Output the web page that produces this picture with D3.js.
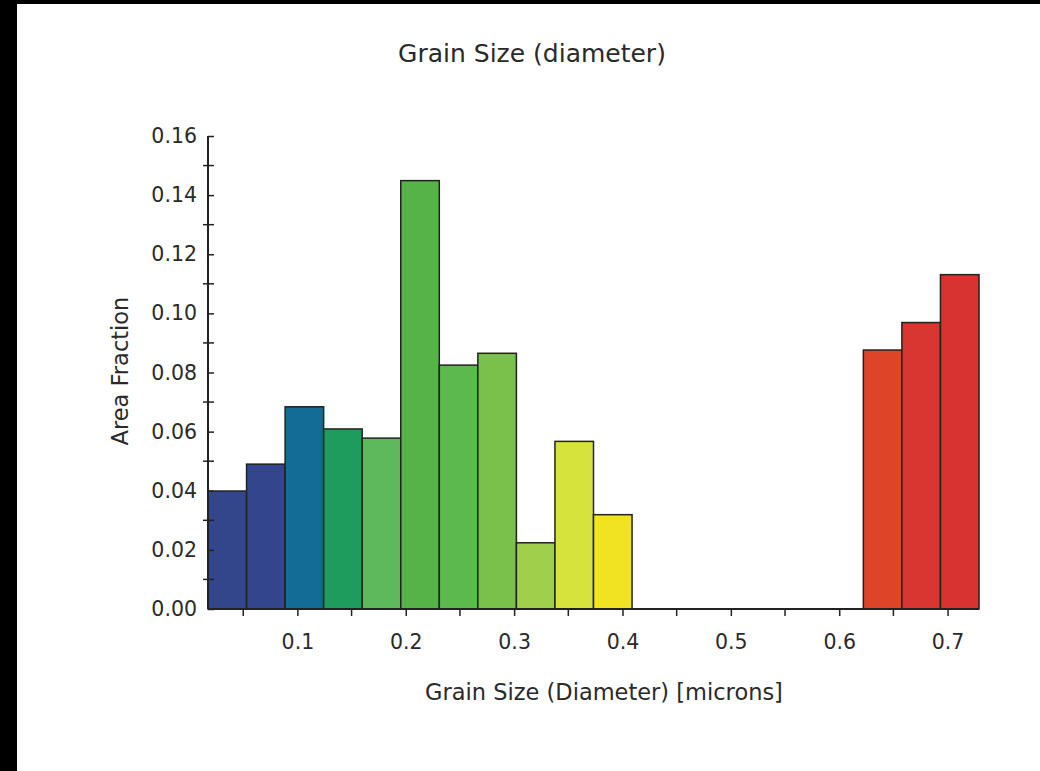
<!DOCTYPE html>
<html>
<head>
<meta charset="utf-8">
<script src="https://cdn.jsdelivr.net/npm/d3@7"></script>
<style>
  body { margin: 0; background: #fff; }
  svg { display: block; }
  text { font-family: "DejaVu Sans", Verdana, sans-serif; fill: #2a2a2a; }
</style>
</head>
<body>
<svg id="chart"></svg>
<script>
// histogram bins (microns) and area fractions
let binStart = 0.0175;
let binEnd = 0.729;
let binCount = 20;
let fractions = [0.0399, 0.0490, 0.0684, 0.0609, 0.0578, 0.1449, 0.0825, 0.0865,
  0.0224, 0.0567, 0.0319, 0, 0, 0, 0, 0, 0, 0.0876, 0.0969, 0.1131];
let colors = ["#33458b", "#33458d", "#136c95", "#1c9d5d", "#5db95a", "#55b347",
  "#5cb94b", "#79c14a", "#9ed04a", "#d7e33d", "#f1e322", null, null, null, null,
  null, null, "#de4528", "#d93531", "#d93331"];
let xTicks = [0.1, 0.2, 0.3, 0.4, 0.5, 0.6, 0.7];
let xMinorTicks = [0.05, 0.15, 0.25, 0.35, 0.45, 0.55, 0.65];
let yTicks = [0, 0.02, 0.04, 0.06, 0.08, 0.10, 0.12, 0.14, 0.16];
let yMinorTicks = [0.01, 0.03, 0.05, 0.07, 0.09, 0.11, 0.13, 0.15];

let width = 1040;
let height = 771;
let plotLeft = 208, plotRight = 979, plotTop = 136, plotBottom = 609;

let svg = d3.select("#chart").attr("width", width).attr("height", height);

// black frame strips of the original screenshot
svg.append("rect").attr("x", 0).attr("y", 0).attr("width", 17).attr("height", height).attr("fill", "#000");
svg.append("rect").attr("x", 0).attr("y", 0).attr("width", width).attr("height", 4).attr("fill", "#000");

let xScale = d3.scaleLinear().domain([binStart, binEnd]).range([plotLeft, plotRight]);
let yScale = d3.scaleLinear().domain([0, 0.16]).range([plotBottom, plotTop]);

let binWidth = (binEnd - binStart) / binCount;
let bins = fractions.map((v, i) => ({
  x0: binStart + i * binWidth,
  x1: binStart + (i + 1) * binWidth,
  value: v,
  color: colors[i]
}));

svg.append("g")
  .selectAll("rect")
  .data(bins.filter((d) => d.value > 0))
  .enter()
  .append("rect")
  .attr("x", (d) => xScale(d.x0))
  .attr("y", (d) => yScale(d.value))
  .attr("width", (d) => xScale(d.x1) - xScale(d.x0))
  .attr("height", (d) => yScale(0) - yScale(d.value))
  .attr("fill", (d) => d.color)
  .attr("stroke", "#222")
  .attr("stroke-width", 1.5);

// x axis
let xAxis = svg.append("g").attr("transform", "translate(0," + plotBottom + ")");
xAxis.call(d3.axisBottom(xScale).tickValues(xTicks).tickSize(7).tickPadding(18)
  .tickFormat(d3.format(".1f")));
xAxis.append("g").selectAll("line").data(xMinorTicks).enter().append("line")
  .attr("x1", (d) => xScale(d)).attr("x2", (d) => xScale(d))
  .attr("y1", 0).attr("y2", 7).attr("stroke", "#222").attr("stroke-width", 1.5);
xAxis.select(".domain").attr("d", "M" + plotLeft + ",0H" + plotRight);

// y axis
let yAxis = svg.append("g").attr("transform", "translate(" + plotLeft + ",0)");
yAxis.call(d3.axisLeft(yScale).tickValues(yTicks).tickSize(5).tickPadding(6)
  .tickFormat(d3.format(".2f")));
yAxis.selectAll(".tick line").attr("x2", 6);
yAxis.append("g").selectAll("line").data(yMinorTicks).enter().append("line")
  .attr("x1", -5).attr("x2", 6)
  .attr("y1", (d) => yScale(d)).attr("y2", (d) => yScale(d))
  .attr("stroke", "#222").attr("stroke-width", 1.5);
yAxis.select(".domain").attr("d", "M0," + plotBottom + "V" + plotTop);

svg.selectAll(".domain").attr("stroke", "#222").attr("stroke-width", 2);
svg.selectAll(".tick line").attr("stroke", "#222").attr("stroke-width", 1.5);
svg.selectAll(".tick text").style("font-size", "20.5px")
  .style("font-family", "DejaVu Sans, sans-serif").attr("fill", "#2a2a2a");

// titles
svg.append("text").attr("x", 532).attr("y", 62).attr("text-anchor", "middle")
  .style("font-size", "25px").text("Grain Size (diameter)");
svg.append("text").attr("x", 604).attr("y", 700).attr("text-anchor", "middle")
  .style("font-size", "22.5px").text("Grain Size (Diameter) [microns]");
svg.append("text").attr("transform", "translate(128,371) rotate(-90)")
  .attr("text-anchor", "middle").style("font-size", "22.5px").text("Area Fraction");
</script>
</body>
</html>
